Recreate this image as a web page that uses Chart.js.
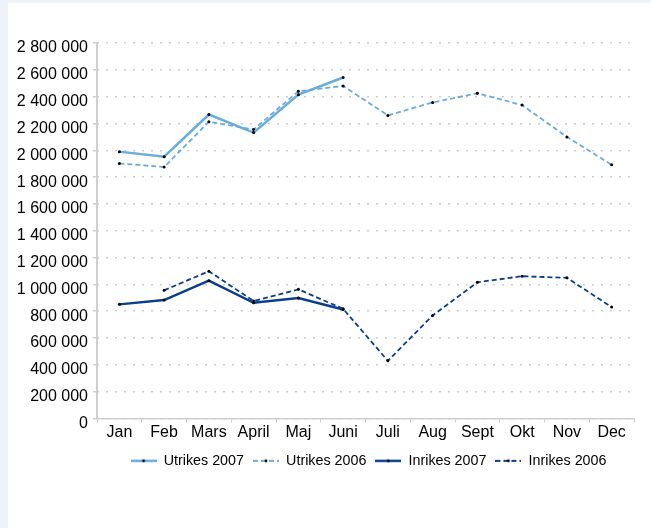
<!DOCTYPE html>
<html>
<head>
<meta charset="utf-8">
<script src="https://cdn.jsdelivr.net/npm/chart.js@4"></script>
<style>
    body { margin: 0; background: #eef3f9; }
    #wrap { position: absolute; left: 8px; top: 3px; width: 643px; height: 525px; background: #fff; }
</style>
</head>
<body>
<div id="wrap"><canvas id="myChart"></canvas></div>
<script>
const months = ["Jan", "Feb", "Mars", "April", "Maj", "Juni", "Juli", "Aug", "Sept", "Okt", "Nov", "Dec"]

const utrikes2007 = [1990000, 1952000, 2267000, 2132000, 2415000, 2543000, null, null, null, null, null, null]
const utrikes2006 = [1902000, 1875000, 2213000, 2155000, 2440000, 2480000, 2260000, 2357000, 2425000, 2337000, 2100000, 1892000]
const inrikes2007 = [851000, 883000, 1028000, 863000, 898000, 813000, null, null, null, null, null, null]
const inrikes2006 = [null, 956000, 1098000, 876000, 963000, 818000, 430000, 768000, 1016000, 1061000, 1049000, 831000]

const lightBlue = "#6aaddb"
const navy = "#0b3f8c"
const gridGray = "#cfcfcf"

Chart.defaults.font.family = "'Liberation Sans', Arial, sans-serif"
Chart.defaults.color = "#000"

function spaced(v) {
    return String(v).replace(/\B(?=(\d{3})+(?!\d))/g, " ")
}

// little line sample with a dot in the middle, used as legend symbol
function legendSample(color, width, dash) {
    let c = document.createElement("canvas")
    c.width = 26
    c.height = 6
    let ctx = c.getContext("2d")
    ctx.strokeStyle = color
    ctx.lineWidth = width
    ctx.setLineDash(dash)
    ctx.beginPath()
    ctx.moveTo(0, 3)
    ctx.lineTo(26, 3)
    ctx.stroke()
    ctx.fillStyle = "#000"
    ctx.beginPath()
    ctx.arc(13, 3, 1.4, 0, Math.PI * 2)
    ctx.fill()
    return c
}

function series(label, data, color, width, dash) {
    return {
        label: label,
        data: data,
        borderColor: color,
        backgroundColor: color,
        borderWidth: width,
        borderDash: dash,
        tension: 0,
        pointRadius: 1.5,
        pointHoverRadius: 2,
        pointBackgroundColor: "#000",
        pointBorderWidth: 0,
        spanGaps: false,
        sample: legendSample(color, width, dash)
    }
}

// center the legend under the plot area instead of the whole canvas
const legendUnderPlot = {
    id: "legendUnderPlot",
    afterLayout(chart) {
        let lg = chart.legend
        lg.left = chart.chartArea.left + 3
        lg.right = chart.chartArea.right + 3
        lg.top += 3
        lg.bottom += 3
    }
}

// solid value axis line (the border dash setting would make it dotted)
const solidYAxis = {
    id: "solidYAxis",
    beforeDatasetsDraw(chart) {
        let a = chart.chartArea
        let ctx = chart.ctx
        ctx.save()
        ctx.strokeStyle = gridGray
        ctx.lineWidth = 2
        ctx.beginPath()
        ctx.moveTo(a.left, a.top)
        ctx.lineTo(a.left, a.bottom)
        ctx.stroke()
        ctx.restore()
    }
}

function createChart() {
    let htmlChart = document.getElementById("myChart")

    new Chart(htmlChart, {
        type: "line",
        data: {
            labels: months,
            datasets: [
                series("Utrikes 2007", utrikes2007, lightBlue, 2.5, []),
                series("Utrikes 2006", utrikes2006, lightBlue, 1.8, [5, 3]),
                series("Inrikes 2007", inrikes2007, navy, 2.5, []),
                series("Inrikes 2006", inrikes2006, navy, 1.8, [5, 3])
            ]
        },
        plugins: [legendUnderPlot, solidYAxis],
        options: {
            responsive: true,
            maintainAspectRatio: false,
            animation: false,
            layout: {
                padding: { top: 40, right: 17, bottom: 53, left: 0 }
            },
            plugins: {
                tooltip: { enabled: false },
                legend: {
                    display: true,
                    position: "bottom",
                    labels: {
                        usePointStyle: true,
                        pointStyleWidth: 26,
                        padding: 9,
                        font: { size: 14.3 },
                        color: "#000",
                        generateLabels: function(chart) {
                            let items = Chart.defaults.plugins.legend.labels.generateLabels(chart)
                            items.forEach(function(item) {
                                item.pointStyle = chart.data.datasets[item.datasetIndex].sample
                            })
                            return items
                        }
                    }
                }
            },
            scales: {
                x: {
                    offset: true,
                    border: { color: gridGray, width: 1.5 },
                    grid: {
                        offset: true,
                        drawOnChartArea: false,
                        drawTicks: true,
                        tickLength: 4,
                        tickColor: gridGray
                    },
                    ticks: {
                        color: "#000",
                        padding: 0,
                        maxRotation: 0,
                        autoSkip: false,
                        font: { size: 16 }
                    }
                },
                y: {
                    min: 0,
                    max: 2800000,
                    border: { display: false, dash: [2, 7] },
                    afterFit: function(scale) {
                        scale.width = 89
                    },
                    grid: {
                        color: gridGray,
                        lineWidth: 1.5,
                        tickLength: 4,
                        tickBorderDash: [],
                        tickColor: gridGray
                    },
                    ticks: {
                        stepSize: 200000,
                        color: "#000",
                        padding: 5,
                        labelOffset: 5,
                        font: { size: 16 },
                        callback: function(value) {
                            return spaced(value)
                        }
                    }
                }
            }
        }
    })
}

createChart()
</script>
</body>
</html>
